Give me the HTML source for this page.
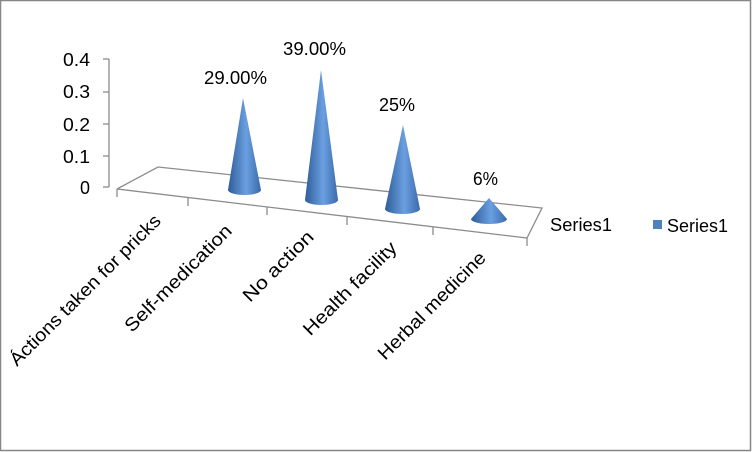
<!DOCTYPE html>
<html><head><meta charset="utf-8"><style>
html,body{margin:0;padding:0;background:#fff}
svg{display:block}
text{font-family:"Liberation Sans",sans-serif;fill:#000}
</style></head><body>
<svg width="752" height="452" viewBox="0 0 752 452">
<defs>
<linearGradient id="g" x1="0" x2="1" y1="0" y2="0">
<stop offset="0" stop-color="#2f5c99"/>
<stop offset="0.55" stop-color="#6a9fe0"/>
<stop offset="1" stop-color="#3a6aad"/>
</linearGradient>
</defs>
<rect x="0.5" y="0.5" width="750" height="450" fill="#fff" stroke="#868686" stroke-width="1.5"/>
<g stroke="#8c8c8c" stroke-width="1.3" fill="none">
<line x1="109" y1="59" x2="109" y2="187"/>
<line x1="103" y1="59" x2="109" y2="59"/>
<line x1="103" y1="92" x2="109" y2="92"/>
<line x1="103" y1="124" x2="109" y2="124"/>
<line x1="103" y1="156" x2="109" y2="156"/>
<line x1="103" y1="187" x2="109" y2="187"/>
<polyline points="117,189 158,167 542,208 527,238 117,189"/>
<line x1="117" y1="189" x2="117" y2="197"/>
<line x1="188" y1="198" x2="188" y2="206"/>
<line x1="267" y1="207" x2="267" y2="215"/>
<line x1="347" y1="217" x2="347" y2="225"/>
<line x1="433" y1="227" x2="433" y2="235"/>
<line x1="527" y1="238" x2="527" y2="246"/>
</g>
<g font-size="18.5" lengthAdjust="spacingAndGlyphs">
<text x="63" y="66" textLength="27" lengthAdjust="spacingAndGlyphs">0.4</text>
<text x="63" y="98" textLength="27" lengthAdjust="spacingAndGlyphs">0.3</text>
<text x="63" y="131" textLength="27" lengthAdjust="spacingAndGlyphs">0.2</text>
<text x="63" y="163" textLength="27" lengthAdjust="spacingAndGlyphs">0.1</text>
<text x="80" y="194" textLength="10" lengthAdjust="spacingAndGlyphs">0</text>
</g>
<g fill="url(#g)">
<path d="M243,98 L228,190 A16.5,5 0 0 0 261,190 Z"/>
<path d="M321,70 L305,200 A16.5,5 0 0 0 338,200 Z"/>
<path d="M403,125 L385,209 A17.5,5 0 0 0 420,209 Z"/>
<path d="M489,198 L471,219 A18,5 0 0 0 507,219 Z"/>
</g>
<g font-size="18.5">
<text x="204" y="84" textLength="63" lengthAdjust="spacingAndGlyphs">29.00%</text>
<text x="283" y="55" textLength="63" lengthAdjust="spacingAndGlyphs">39.00%</text>
<text x="379" y="111" textLength="36" lengthAdjust="spacingAndGlyphs">25%</text>
<text x="473" y="185" textLength="25" lengthAdjust="spacingAndGlyphs">6%</text>
</g>
<g font-size="18.5" text-anchor="end">
<text transform="translate(162,222) rotate(-45)" textLength="205" lengthAdjust="spacingAndGlyphs">Áctions taken for pricks</text>
<text transform="translate(233,232) rotate(-45)" textLength="143" lengthAdjust="spacingAndGlyphs">Self-medication</text>
<text transform="translate(315,238) rotate(-45)" textLength="92" lengthAdjust="spacingAndGlyphs">No action</text>
<text transform="translate(398,249) rotate(-45)" textLength="124" lengthAdjust="spacingAndGlyphs">Health facility</text>
<text transform="translate(487,259) rotate(-45)" textLength="144" lengthAdjust="spacingAndGlyphs">Herbal medicine</text>
</g>
<text x="550" y="231" font-size="18.5" textLength="62" lengthAdjust="spacingAndGlyphs">Series1</text>
<rect x="653" y="220" width="9" height="9" fill="#4f81bd"/>
<text x="667" y="232" font-size="18.5" textLength="61" lengthAdjust="spacingAndGlyphs">Series1</text>
</svg>
</body></html>
